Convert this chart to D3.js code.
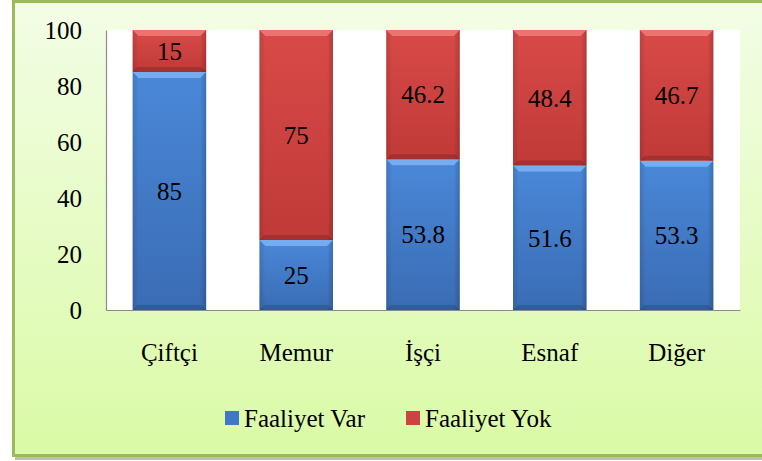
<!DOCTYPE html>
<html>
<head>
<meta charset="utf-8">
<script src="https://cdn.jsdelivr.net/npm/d3@7"></script>
<style>
  body { margin: 0; background: #fff; }
  svg text { font-family: "Liberation Serif", "Times New Roman", serif; fill: #000; }
</style>
</head>
<body>
<svg id="chart" width="762" height="461"></svg>
<script>
// chart data
var categories = ['Çiftçi', 'Memur', 'İşçi', 'Esnaf', 'Diğer']
var faaliyetVar = [85, 25, 53.8, 51.6, 53.3]
var faaliyetYok = [15, 75, 46.2, 48.4, 46.7]
var seriesNames = ['Faaliyet Var', 'Faaliyet Yok']
var yTicks = [0, 20, 40, 60, 80, 100]

var serif = '"Liberation Serif", "Times New Roman", serif'

var svg = d3.select('#chart')
var defs = svg.append('defs')

// background gradient for the frame
var bg = defs.append('linearGradient').attr('id', 'bg')
    .attr('x1', 0).attr('y1', 0).attr('x2', 0).attr('y2', 1)
bg.append('stop').attr('offset', '0%').attr('stop-color', '#f3fde6')
bg.append('stop').attr('offset', '100%').attr('stop-color', '#dafaa6')

// bar shading
function barGrad(id, top, bottom) {
    var g = defs.append('linearGradient').attr('id', id)
        .attr('x1', 0).attr('y1', 0).attr('x2', 0).attr('y2', 1)
    g.append('stop').attr('offset', '0%').attr('stop-color', top)
    g.append('stop').attr('offset', '100%').attr('stop-color', bottom)
}
barGrad('blueGrad', '#4a88d8', '#3a6cb4')
barGrad('redGrad', '#d84a48', '#c03a38')
var sideGrad = defs.append('linearGradient').attr('id', 'sideGrad')
    .attr('x1', 0).attr('y1', 0).attr('x2', 1).attr('y2', 0)
sideGrad.append('stop').attr('offset', '0%').attr('stop-color', '#000').attr('stop-opacity', 0.12)
sideGrad.append('stop').attr('offset', '8%').attr('stop-color', '#000').attr('stop-opacity', 0)
sideGrad.append('stop').attr('offset', '92%').attr('stop-color', '#000').attr('stop-opacity', 0)
sideGrad.append('stop').attr('offset', '100%').attr('stop-color', '#000').attr('stop-opacity', 0.18)

// frame with shadow
svg.append('rect')
    .attr('x', 15).attr('y', 4).attr('width', 760).attr('height', 456)
    .attr('fill', '#bdbdbd')
svg.append('rect')
    .attr('x', 13.5).attr('y', 1.5).attr('width', 760).attr('height', 454)
    .attr('fill', 'url(#bg)')
    .attr('stroke', '#9bbb59').attr('stroke-width', 3)

var margin = { left: 106, top: 30, right: 22, bottom: 151 }
var width = 762 - margin.left - margin.right
var height = 461 - margin.top - margin.bottom

var g = svg.append('g').attr('transform', 'translate(' + margin.left + ',' + margin.top + ')')

g.append('rect').attr('width', width).attr('height', height).attr('fill', '#fff')

var x = d3.scaleBand().domain(categories).range([0, width]).paddingInner(0.42).paddingOuter(0.21)
var y = d3.scaleLinear().domain([0, 100]).range([height, 0])

var rows = categories.map(function(c, i) {
    return { cat: c, Var: faaliyetVar[i], Yok: faaliyetYok[i] }
})
var stacked = d3.stack().keys(['Var', 'Yok'])(rows)
var fills = { Var: 'url(#blueGrad)', Yok: 'url(#redGrad)' }
var bevel = { Var: '#7cb4f4', Yok: '#f07a78' }

stacked.forEach(function(layer) {
    var key = layer.key
    var seg = g.selectAll('.seg-' + key)
        .data(layer)
        .enter().append('g')
        .attr('class', 'seg-' + key)

    seg.append('rect')
        .attr('x', function(d) { return x(d.data.cat) })
        .attr('y', function(d) { return y(d[1]) })
        .attr('width', x.bandwidth())
        .attr('height', function(d) { return y(d[0]) - y(d[1]) })
        .attr('fill', fills[key])

    // side shading
    seg.append('rect')
        .attr('x', function(d) { return x(d.data.cat) })
        .attr('y', function(d) { return y(d[1]) })
        .attr('width', x.bandwidth())
        .attr('height', function(d) { return y(d[0]) - y(d[1]) })
        .attr('fill', 'url(#sideGrad)')

    // top bevel
    seg.append('path')
        .attr('d', function(d) {
            var x0 = x(d.data.cat), x1 = x0 + x.bandwidth(), t = y(d[1]), b = 6
            return 'M' + x0 + ',' + t + 'L' + x1 + ',' + t + 'L' + (x1 - b) + ',' + (t + b) +
                'L' + (x0 + b) + ',' + (t + b) + 'Z'
        })
        .attr('fill', bevel[key]).attr('opacity', 0.85)

    // bottom shade
    seg.append('path')
        .attr('d', function(d) {
            var x0 = x(d.data.cat), x1 = x0 + x.bandwidth(), bt = y(d[0]), b = 5
            return 'M' + x0 + ',' + bt + 'L' + x1 + ',' + bt + 'L' + (x1 - b) + ',' + (bt - b) +
                'L' + (x0 + b) + ',' + (bt - b) + 'Z'
        })
        .attr('fill', '#000').attr('opacity', 0.15)

    seg.append('text')
        .attr('x', function(d) { return x(d.data.cat) + x.bandwidth() / 2 })
        .attr('y', function(d) { return (y(d[0]) + y(d[1])) / 2 })
        .attr('dy', '0.35em')
        .attr('text-anchor', 'middle')
        .attr('font-family', serif)
        .attr('font-size', 25)
        .text(function(d) { return d.data[key] })
})

// axes
var yAxis = g.append('g').call(d3.axisLeft(y).tickValues(yTicks).tickSize(0).tickPadding(24))
yAxis.attr('font-family', serif)
yAxis.select('.domain').attr('stroke', '#8c8c8c').attr('stroke-width', 1.2)
yAxis.selectAll('text').attr('font-size', 25)

var xAxis = g.append('g').attr('transform', 'translate(0,' + height + ')')
    .call(d3.axisBottom(x).tickSize(0).tickPadding(33))
xAxis.attr('font-family', serif)
xAxis.select('.domain').attr('stroke', '#8c8c8c').attr('stroke-width', 1.2)
xAxis.selectAll('text').attr('font-size', 25)

// legend
var legendColors = ['#3f78c4', '#cc4442']
var legend = svg.append('g').attr('font-family', serif)
var legendX = [225, 406]
seriesNames.forEach(function(name, i) {
    var lg = legend.append('g').attr('transform', 'translate(' + legendX[i] + ',411)')
    lg.append('rect').attr('width', 14).attr('height', 14).attr('fill', legendColors[i])
    lg.append('text').attr('x', 19).attr('y', 7).attr('dy', '0.35em')
        .attr('font-size', 25).text(name)
})
</script>
</body>
</html>
